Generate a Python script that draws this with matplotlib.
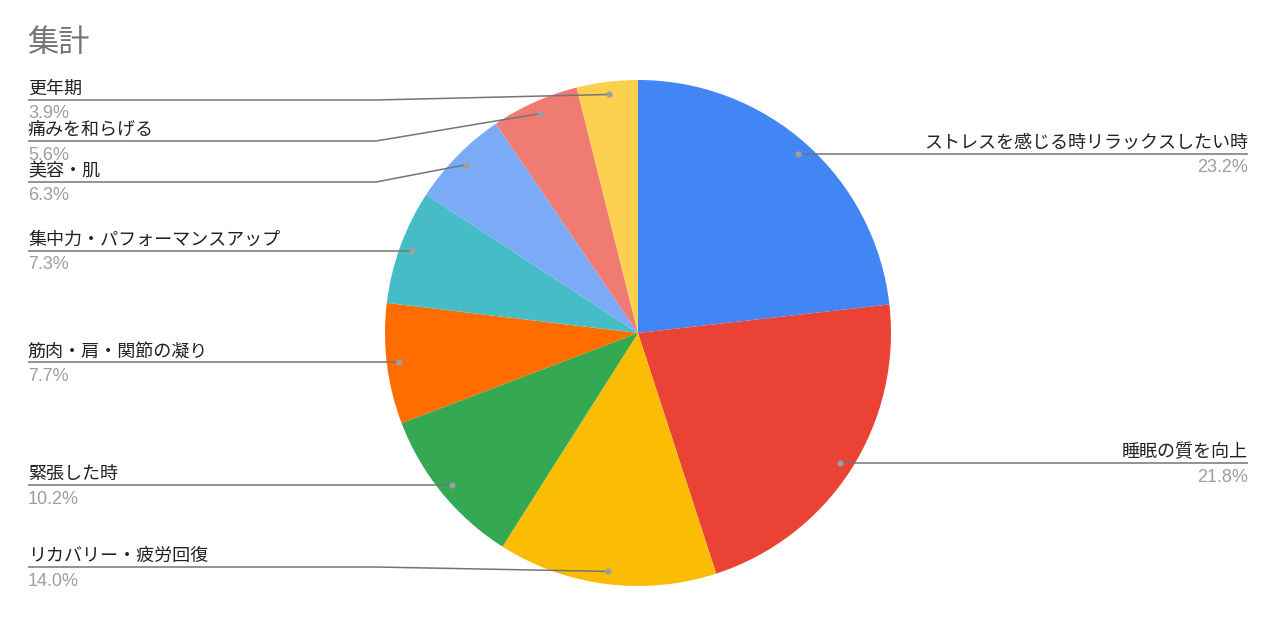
"""Pie chart of 集計 with Google-Sheets-style leader labels."""

import matplotlib

matplotlib.use("Agg")

import matplotlib.pyplot as plt
import numpy as np

labels = [
    "ストレスを感じる時リラックスしたい時",
    "睡眠の質を向上",
    "リカバリー・疲労回復",
    "緊張した時",
    "筋肉・肩・関節の凝り",
    "集中力・パフォーマンスアップ",
    "美容・肌",
    "痛みを和らげる",
    "更年期",
]
shares = [23.2, 21.8, 14.0, 10.2, 7.7, 7.3, 6.3, 5.6, 3.9]
colors = ["#4285F4", "#EA4335", "#FBBC04", "#34A853", "#FF6D01",
          "#46BDC6", "#7BAAF7", "#F07B72", "#FCD04F"]

W, H = 1280, 618
CX, CY, R = 638, 333, 253  # pixel coords, y from the top
JP = ["Noto Sans CJK JP", "DejaVu Sans"]
NUM = ["Liberation Sans", "DejaVu Sans"]


def py(y):
    # top-down pixel y -> data y
    return H - y


fig = plt.figure(figsize=(W / 100, H / 100), dpi=100)
ax = fig.add_axes([0, 0, 1, 1])
ax.pie(shares, colors=colors, startangle=90, counterclock=False,
       radius=R, center=(CX, py(CY)), wedgeprops=dict(linewidth=0))
ax.set_xlim(0, W)
ax.set_ylim(0, H)
ax.set_aspect("equal")
ax.axis("off")

ax.text(27, py(43), "集計", fontsize=22.5, color="#757575", family=JP,
        va="center", ha="left")

frac = np.array(shares) / sum(shares)
mid = np.deg2rad(90 - 360 * (np.cumsum(frac) - frac / 2))
dot_x = CX + 0.95 * R * np.cos(mid)
dot_y = CY - 0.95 * R * np.sin(mid)

# label rows: right side at dot height, left side spread out
label_y = dot_y.copy()
left = [i for i in range(len(shares)) if np.cos(mid[i]) < 0]
left.sort(key=lambda i: dot_y[i])
prev = None
for i in left:
    y = max(dot_y[i], 100)
    if prev is not None:
        y = max(y, prev + 41)
    label_y[i] = min(y, 567)
    prev = label_y[i]

line_c = "#757575"
for i, (name, val) in enumerate(zip(labels, shares)):
    ly = label_y[i]
    if np.cos(mid[i]) >= 0:
        xs = [dot_x[i], 1248]
        ys = [dot_y[i], ly]
        tx, ha = 1248, "right"
    else:
        xs = [28, 376, dot_x[i]] if abs(ly - dot_y[i]) > 1 else [28, dot_x[i]]
        ys = [ly, ly, dot_y[i]] if abs(ly - dot_y[i]) > 1 else [ly, dot_y[i]]
        tx, ha = 28, "left"
    ax.plot(xs, [py(v) for v in ys], color=line_c, lw=1.1,
            solid_capstyle="butt")
    ax.plot(dot_x[i], py(dot_y[i]), "o", ms=4.5, color="#9e9e9e", mew=0)
    ax.text(tx, py(ly - 6), name, fontsize=13, color="#222222",
            family=JP, ha=ha, va="baseline")
    ax.text(tx, py(ly + 18.5), f"{val:.1f}%", fontsize=13, color="#9e9e9e",
            family=NUM, ha=ha, va="baseline")

fig.savefig("out.png", dpi=100)
plt.close(fig)
